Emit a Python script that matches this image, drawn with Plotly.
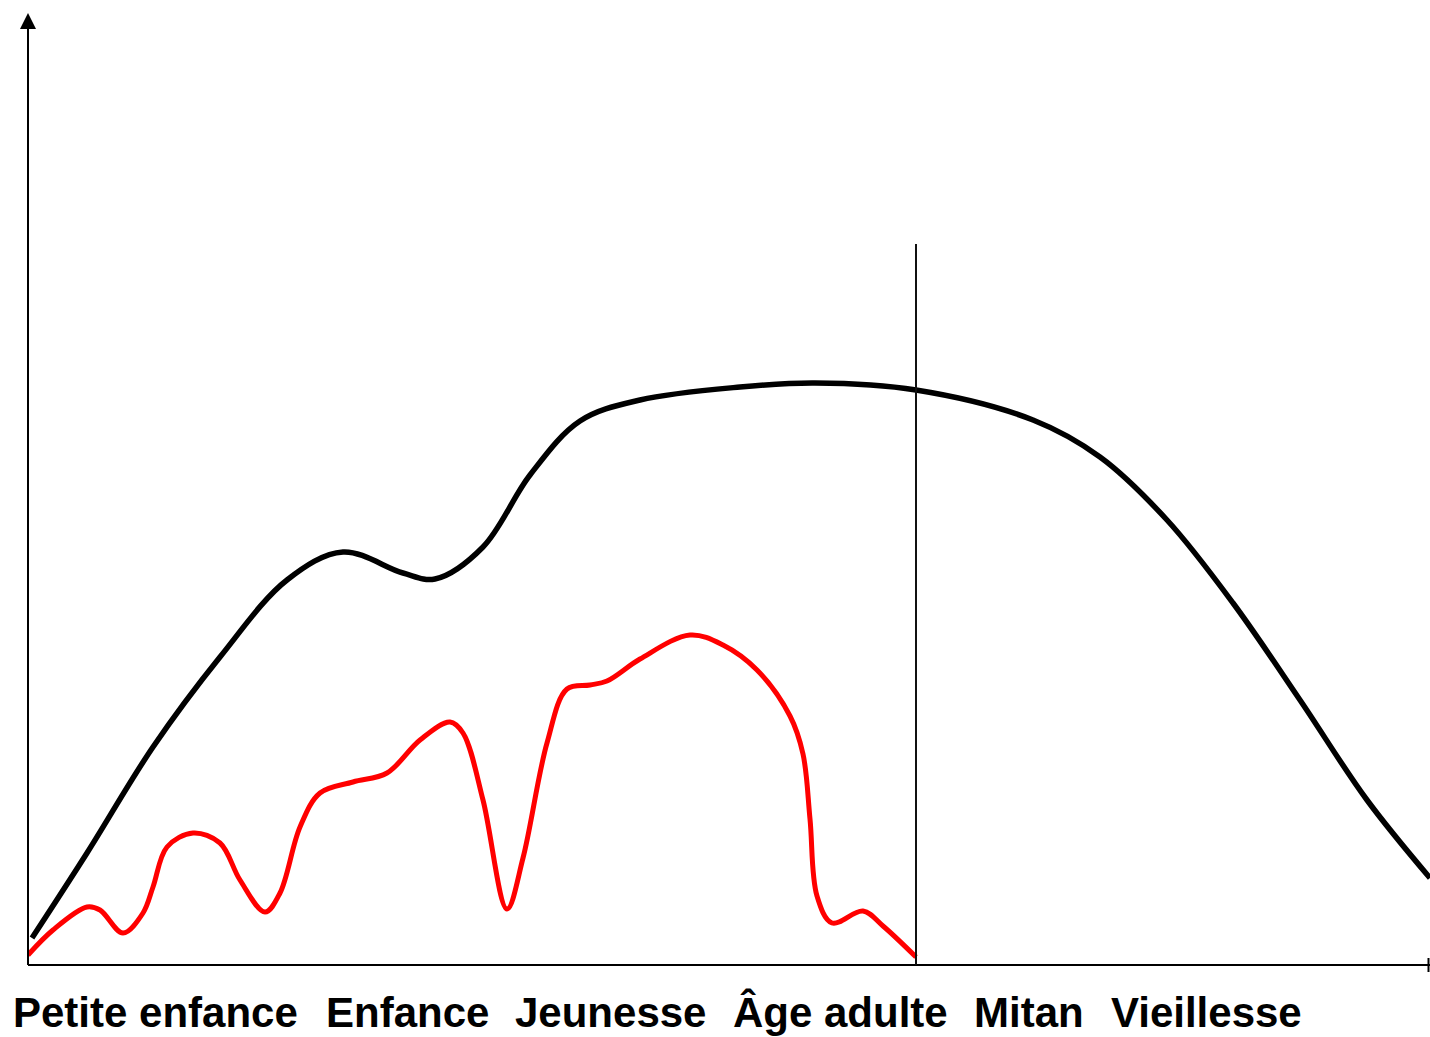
import plotly.graph_objects as go

# Values (x: horizontal position, y: height above the baseline)
life_x = [4, 59, 125, 192, 259, 315, 375, 407, 455, 502, 552, 612, 712, 787, 888, 1005, 1072, 1139, 1205, 1272, 1339, 1402]
life_y = [27, 112, 218, 308, 385, 413, 392, 386, 418, 490, 544, 565, 578, 582, 575, 545, 508, 445, 362, 265, 165, 87]

well_x = [0, 25, 59, 72, 95, 115, 125, 139, 165, 192, 212, 237, 252, 272, 292, 325, 359, 392, 422, 435, 455, 479, 495, 519, 539, 562, 579, 612, 662, 695, 729, 762, 775, 782, 789, 804, 835, 855, 888]
well_y = [10, 35, 58, 55, 32, 52, 78, 118, 132, 122, 85, 53, 72, 138, 172, 183, 192, 225, 243, 232, 165, 56, 107, 222, 276, 280, 284, 306, 330, 320, 295, 249, 211, 146, 69, 42, 54, 39, 8]

stage_labels = ["Petite enfance", "Enfance", "Jeunesse", "Âge adulte", "Mitan", "Vieillesse"]
stage_centers = [155, 407, 610, 840, 1029, 1206]

divider_x = 888
divider_top = 721

X_MAX = 1402
Y_MAX = 950

fig = go.Figure()
fig.add_trace(go.Scatter(x=life_x, y=life_y, mode="lines",
                         line=dict(color="black", width=5.5, shape="spline", smoothing=1.0),
                         hoverinfo="skip", cliponaxis=True))
fig.add_trace(go.Scatter(x=well_x, y=well_y, mode="lines",
                         line=dict(color="#ff0000", width=5, shape="spline", smoothing=1.0),
                         hoverinfo="skip", cliponaxis=False))


def px(v):
    return v / X_MAX


def py(v):
    return v / Y_MAX


shapes = []
# y axis line
shapes.append(dict(type="line", xref="paper", yref="paper", x0=0, x1=0, y0=0, y1=py(Y_MAX - 14),
                   line=dict(color="black", width=2)))
# arrow head
shapes.append(dict(type="path", xref="paper", yref="paper",
                   path=f"M 0 {py(Y_MAX + 2)} L {px(-8)} {py(Y_MAX - 14)} L {px(8)} {py(Y_MAX - 14)} Z",
                   fillcolor="black", line=dict(color="black", width=0)))
# x axis line
shapes.append(dict(type="line", xref="paper", yref="paper", x0=0, x1=1, y0=0, y1=0,
                   line=dict(color="black", width=2)))
# right end tick
shapes.append(dict(type="line", xref="paper", yref="paper", x0=px(X_MAX - 1.5), x1=px(X_MAX - 1.5),
                   y0=py(-7), y1=py(7), line=dict(color="black", width=2)))
# divider
shapes.append(dict(type="line", xref="x", yref="y", x0=divider_x, x1=divider_x, y0=0, y1=divider_top,
                   line=dict(color="#111111", width=2)))

annotations = []
for lab, cx in zip(stage_labels, stage_centers):
    annotations.append(dict(text=lab, x=px(cx - 28), y=py(-47), xref="paper", yref="paper",
                            showarrow=False, xanchor="center", yanchor="middle",
                            font=dict(family="Liberation Sans, Arial, sans-serif", size=42,
                                      color="black", weight="bold")))

fig.update_layout(
    width=1430, height=1037,
    margin=dict(l=28, r=0, t=15, b=72),
    paper_bgcolor="white", plot_bgcolor="white",
    showlegend=False,
    xaxis=dict(range=[0, X_MAX], visible=False, fixedrange=True),
    yaxis=dict(range=[0, Y_MAX], visible=False, fixedrange=True),
    shapes=shapes,
    annotations=annotations,
)

fig.write_html(
    "out.html",
    post_script="document.body.style.margin='0';document.body.style.overflow='hidden';",
    config={"displayModeBar": False},
)
